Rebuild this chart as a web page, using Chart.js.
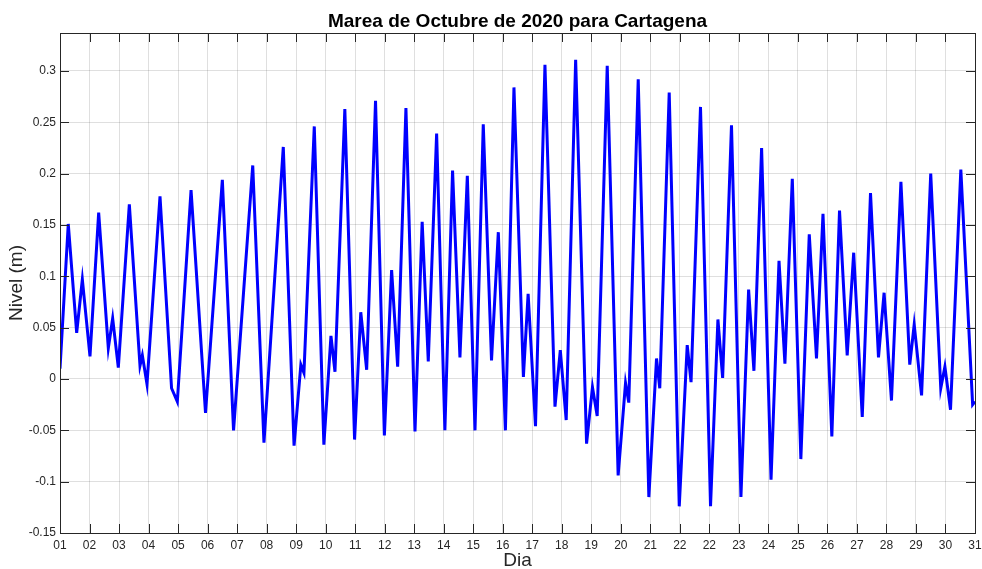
<!DOCTYPE html>
<html>
<head>
<meta charset="utf-8">
<script src="https://cdn.jsdelivr.net/npm/chart.js@4/dist/chart.umd.min.js"></script>
<style>
html,body{margin:0;padding:0;background:#fff;}
#wrap{width:982px;height:569px;}
</style>
</head>
<body>
<div id="wrap"><canvas id="c" width="982" height="569"></canvas></div>
<script>
// Time in days since 01 Oct 2020 00:00
const dias = [
  0.00, 0.28, 0.565, 0.757, 1.016, 1.31, 1.637, 1.784, 1.976, 2.349,
  2.71, 2.79, 2.947, 3.388, 3.78, 3.975, 4.44, 4.93, 5.50, 5.88,
  6.53, 6.91, 7.565, 7.93, 8.16, 8.265, 8.615, 8.94, 9.18, 9.316,
  9.65, 9.98, 10.19, 10.39, 10.69, 10.99, 11.235, 11.44, 11.72, 12.027,
  12.27, 12.477, 12.76, 13.04, 13.30, 13.55, 13.80, 14.06, 14.34, 14.62,
  14.85, 15.09, 15.38, 15.70, 15.86, 16.11, 16.43, 16.77, 16.95, 17.15,
  17.47, 17.84, 18.04, 18.20, 18.54, 18.91, 19.16, 19.27, 19.59, 19.95,
  20.21, 20.32, 20.64, 20.98, 21.25, 21.38, 21.70, 22.04, 22.29, 22.45,
  22.75, 23.07, 23.33, 23.51, 23.77, 24.09, 24.36, 24.56, 24.81, 25.10,
  25.385, 25.63, 25.85, 26.15, 26.41, 26.67, 26.89, 27.18, 27.46, 27.73,
  27.92, 28.17, 28.49, 28.79, 28.94, 29.19, 29.50, 29.84, 29.98, 30.17,
  30.52, 30.92, 31.0
];
// Sea level (m)
const nivel = [
  0.010, 0.151, 0.045, 0.097, 0.022, 0.162, 0.030, 0.059, 0.011, 0.170,
  0.013, 0.023, -0.005, 0.178, -0.009, -0.022, 0.184, -0.033, 0.194, -0.050,
  0.208, -0.062, 0.226, -0.065, 0.014, 0.006, 0.246, -0.064, 0.042, 0.007,
  0.263, -0.059, 0.065, 0.009, 0.271, -0.055, 0.106, 0.012, 0.264, -0.051,
  0.153, 0.017, 0.239, -0.050, 0.203, 0.021, 0.198, -0.050, 0.248, 0.018,
  0.143, -0.050, 0.284, 0.002, 0.083, -0.046, 0.306, -0.027, 0.028, -0.040,
  0.311, -0.063, -0.008, -0.036, 0.305, -0.094, -0.004, -0.023, 0.292, -0.115,
  0.020, -0.009, 0.279, -0.124, 0.033, -0.003, 0.265, -0.124, 0.058, 0.001,
  0.247, -0.115, 0.087, 0.008, 0.225, -0.098, 0.115, 0.015, 0.195, -0.078,
  0.141, 0.020, 0.161, -0.056, 0.164, 0.023, 0.123, -0.037, 0.181, 0.021,
  0.084, -0.021, 0.192, 0.014, 0.053, -0.016, 0.200, -0.009, 0.012, -0.030,
  0.204, -0.025, -0.022
];
const xTickLabels = ['01','02','03','04','05','06','07','08','09','10','11','12','13','14','15','16',
  '17','18','19','20','21','22','22','23','24','25','26','27','28','29','30','31'];
const yTickValues = [-0.15,-0.1,-0.05,0,0.05,0.1,0.15,0.2,0.25,0.3];
const yTickLabels = ['-0.15','-0.1','-0.05','0','0.05','0.1','0.15','0.2','0.25','0.3'];

const FONT = "'Liberation Sans', Arial, Helvetica, sans-serif";
const AXC = '#262626';
const GRID = 'rgba(38,38,38,0.15)';

const points = dias.map((d,i)=>({x:d, y:nivel[i]}));

const boxPlugin = {
  id:'matlabBox',
  afterDatasetsDraw(chart){
    const {ctx, chartArea:a, scales:{x,y}} = chart;
    ctx.save();
    ctx.strokeStyle = AXC;
    ctx.lineWidth = 1;
    ctx.beginPath();
    x.ticks.forEach(t=>{
      const px = Math.round(x.getPixelForValue(t.value))+0.5;
      ctx.moveTo(px, a.bottom); ctx.lineTo(px, a.bottom-9);
      ctx.moveTo(px, a.top); ctx.lineTo(px, a.top+9);
    });
    y.ticks.forEach(t=>{
      const py = Math.round(y.getPixelForValue(t.value))+0.5;
      ctx.moveTo(a.left, py); ctx.lineTo(a.left+9, py);
      ctx.moveTo(a.right, py); ctx.lineTo(a.right-9, py);
    });
    ctx.stroke();
    ctx.strokeRect(Math.round(a.left)+0.5, Math.round(a.top)+0.5, Math.round(a.right-a.left), Math.round(a.bottom-a.top));
    ctx.restore();
  }
};

new Chart(document.getElementById('c'), {
  type:'line',
  data:{datasets:[{
    data:points,
    borderColor:'#0000ff',
    borderWidth:3,
    pointRadius:0,
    tension:0,
    fill:false
  }]},
  options:{
    responsive:false,
    animation:false,
    devicePixelRatio:1,
    layout:{padding:{left:0,right:7,top:0,bottom:0}},
    plugins:{
      legend:{display:false},
      tooltip:{enabled:false},
      title:{display:true,fullSize:false,text:'Marea de Octubre de 2020 para Cartagena',color:'#000',
        font:{family:FONT,size:19,weight:'bold',lineHeight:1.2},padding:{top:10,bottom:0.2}}
    },
    scales:{
      x:{
        type:'linear', min:0, max:31,
        afterBuildTicks(s){ s.ticks = xTickLabels.map((l,i)=>({value:i})); },
        afterFit(s){ s.height = 36; s.paddingLeft = 0; s.paddingRight = 0; },
        ticks:{autoSkip:false,maxRotation:0,minRotation:0,color:AXC,padding:5,
          font:{family:FONT,size:12},
          callback:(v,i)=>xTickLabels[i]},
        grid:{color:GRID,lineWidth:1,drawTicks:false},
        border:{display:false},
        title:{display:true,text:'Dia',color:AXC,font:{family:FONT,size:19,lineHeight:0.85},padding:{top:0,bottom:0}}
      },
      y:{
        type:'linear', min:-0.15, max:0.337,
        afterBuildTicks(s){ s.ticks = yTickValues.map(v=>({value:v})); },
        afterFit(s){ s.width = 60; s.paddingTop = 0; s.paddingBottom = 0; },
        ticks:{autoSkip:false,color:AXC,padding:4,font:{family:FONT,size:12},
          callback:(v,i)=>yTickLabels[i]},
        grid:{color:GRID,lineWidth:1,drawTicks:false},
        border:{display:false},
        title:{display:true,text:'Nivel (m)',color:AXC,font:{family:FONT,size:19},padding:{top:5,bottom:0}}
      }
    }
  },
  plugins:[boxPlugin]
});
</script>
</body>
</html>
